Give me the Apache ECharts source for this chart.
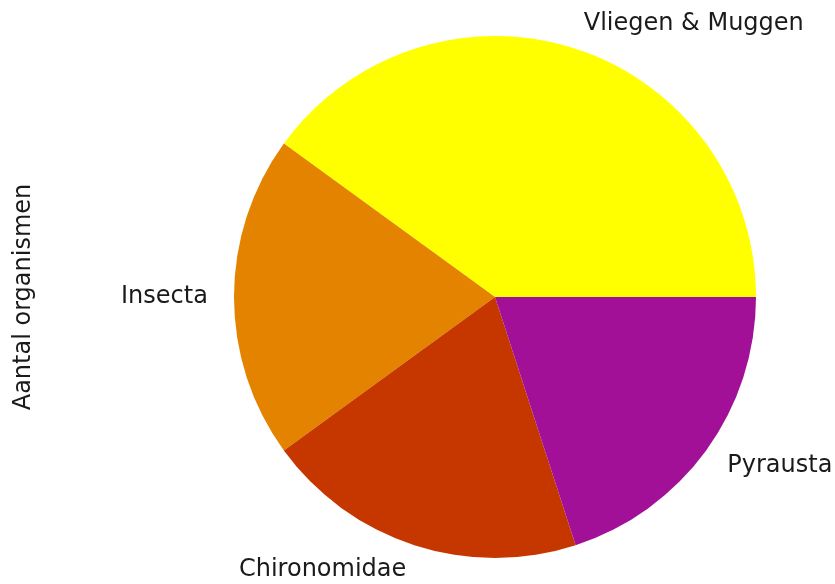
<!DOCTYPE html>
<html>
<head>
<meta charset="utf-8">
<script src="https://cdn.jsdelivr.net/npm/echarts@6/dist/echarts.min.js"></script>
<style>html,body{margin:0;padding:0;background:#fff}#c{width:835px;height:584px}</style>
</head>
<body>
<div id="c"></div>
<script>
const categories = ['Vliegen & Muggen', 'Insecta', 'Chironomidae', 'Pyrausta'];
const values = [2, 1, 1, 1];
const colors = ['#ffff00', '#e48300', '#c63700', '#a11096'];
const yLabel = 'Aantal organismen';

const chart = echarts.init(document.getElementById('c'), null, {renderer: 'canvas'});
const radius = 261;
chart.setOption({
  animation: false,
  backgroundColor: '#ffffff',
  graphic: [{
    type: 'text',
    x: 24, y: 297,
    rotation: Math.PI / 2,
    style: {
      text: yLabel,
      fontFamily: 'DejaVu Sans',
      fontSize: 24,
      fill: '#1a1a1a',
      align: 'center',
      verticalAlign: 'middle'
    }
  }],
  series: [{
    type: 'pie',
    center: [495, 297],
    radius: radius,
    startAngle: 0,
    clockwise: false,
    avoidLabelOverlap: false,
    itemStyle: {borderWidth: 0},
    label: {
      show: true,
      position: 'outside',
      fontFamily: 'DejaVu Sans',
      fontSize: 24,
      color: '#1a1a1a',
      distanceToLabelLine: 0
    },
    labelLine: {show: false, length: radius * 0.1, length2: 0},
    emphasis: {disabled: true},
    data: categories.map((c, i) => ({name: c, value: values[i], itemStyle: {color: colors[i]}}))
  }]
});
</script>
</body>
</html>
